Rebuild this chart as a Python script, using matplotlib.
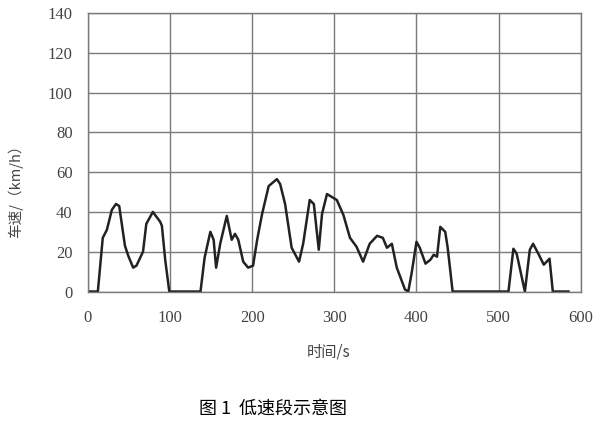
import matplotlib.pyplot as plt

# speed trace (time in s, speed in km/h)
time_s = [0, 12, 18, 23, 29, 34, 38, 45, 49, 55, 59, 67, 71, 79, 88, 90, 94, 99,
          137, 142, 149, 153, 156, 161, 169, 175, 179, 183, 189, 195, 201, 206,
          212, 220, 230, 234, 240, 248, 257, 262, 270, 275, 281, 285, 291, 299,
          303, 311, 319, 327, 335, 343, 352, 359, 364, 370, 376, 386, 390, 394,
          400, 404, 411, 417, 421, 425, 429, 435, 438, 444,
          512, 518, 522, 532, 538, 542, 549, 555, 562, 566, 585]
speed = [0, 0, 27, 31, 41, 44, 43, 23, 18, 12, 13, 20, 34, 40, 35, 33, 16, 0,
         0, 17, 30, 26, 12, 24, 38, 26, 29, 26, 15, 12, 13, 26,
         39, 53, 56.5, 54, 44, 22, 15, 24, 46, 44, 21, 39, 49, 47,
         46, 38.5, 27, 22.5, 15, 24, 28, 27, 22, 24, 12, 1, 0, 9,
         25, 22, 14, 16, 18.5, 17.5, 32.5, 30, 22, 0,
         0, 21.5, 19, 0, 21, 24, 18.5, 13.5, 16.5, 0, 0]

x_ticks = [0, 100, 200, 300, 400, 500, 600]
y_ticks = [0, 20, 40, 60, 80, 100, 120, 140]

plt.rcParams['font.family'] = ['Liberation Serif', 'Noto Sans CJK SC']

fig = plt.figure(figsize=(6.06, 4.22), dpi=100)
ax = fig.add_axes([0.1452, 0.3092, 0.8131, 0.66])

ax.plot(time_s, speed, color='#222222', lw=1.8)

ax.set_xlim(0, 600)
ax.set_ylim(0, 140)
ax.set_xticks(x_ticks)
ax.set_yticks(y_ticks)
ax.grid(True, color='#7a7a7a', lw=1.0)
ax.set_axisbelow(True)
for s in ax.spines.values():
    s.set_color('#7a7a7a')
    s.set_linewidth(1.0)
ax.tick_params(length=0, labelsize=12, labelcolor='#444444')
ax.tick_params(axis='y', pad=11)
ax.tick_params(axis='x', pad=13)

fig.text(0.025, 1 - 188 / 422, '车速/（km/h）', rotation=90, ha='center', va='center',
         fontsize=10.5, color='#444444', family=['Noto Sans CJK SC'])
fig.text(329 / 606, 1 - 352 / 422, '时间/s', ha='center', va='center',
         fontsize=11, color='#444444', family=['Noto Sans CJK SC'])
fig.text(273 / 606, 1 - 409 / 422, '图 1  低速段示意图', ha='center', va='center',
         fontsize=13, color='black', family=['Noto Sans CJK SC'])

fig.savefig('out.png', dpi=100)
